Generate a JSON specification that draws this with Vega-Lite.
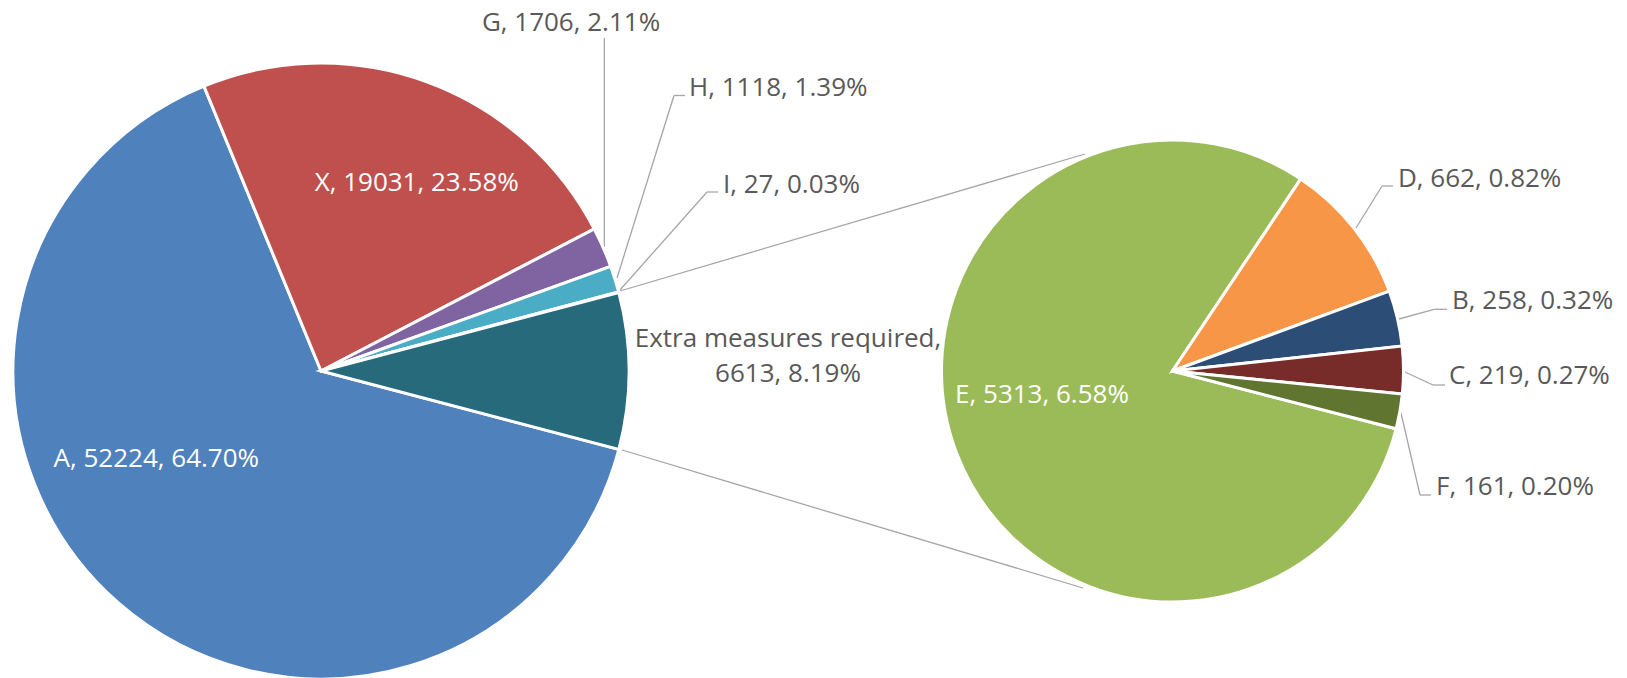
{
  "$schema": "https://vega.github.io/schema/vega-lite/v6.json",
  "autosize": "none",
  "width": 1627,
  "height": 678,
  "padding": 0,
  "background": "white",
  "config": {"view": {"stroke": null}, "text": {"font": "Open Sans", "fontSize": 26, "baseline": "alphabetic"}},
  "datasets": {
    "slices": [
      {"pie": "main", "name": "A", "value": 52224, "pct": 64.70},
      {"pie": "main", "name": "X", "value": 19031, "pct": 23.58},
      {"pie": "main", "name": "G", "value": 1706, "pct": 2.11},
      {"pie": "main", "name": "H", "value": 1118, "pct": 1.39},
      {"pie": "main", "name": "I", "value": 27, "pct": 0.03},
      {"pie": "main", "name": "Extra measures required", "value": 6613, "pct": 8.19},
      {"pie": "detail", "name": "E", "value": 5313, "pct": 6.58},
      {"pie": "detail", "name": "D", "value": 662, "pct": 0.82},
      {"pie": "detail", "name": "B", "value": 258, "pct": 0.32},
      {"pie": "detail", "name": "C", "value": 219, "pct": 0.27},
      {"pie": "detail", "name": "F", "value": 161, "pct": 0.20}
    ]
  },
  "resolve": {"scale": {"theta": "independent"}},
  "layer": [
    {"data": {"values": [{}]}, "mark": {"type": "rule", "color": "#A6A6A6", "strokeWidth": 1.3},
     "encoding": {"x": {"datum": 620, "type": "quantitative", "scale": {"domain": [0, 1627], "nice": false, "zero": false}, "axis": null},
                  "y": {"datum": 291, "type": "quantitative", "scale": {"domain": [0, 678], "nice": false, "zero": false, "reverse": true}, "axis": null},
                  "x2": {"datum": 1085}, "y2": {"datum": 154}}},
    {"data": {"values": [{}]}, "mark": {"type": "rule", "color": "#A6A6A6", "strokeWidth": 1.3},
     "encoding": {"x": {"datum": 622, "type": "quantitative", "scale": {"domain": [0, 1627], "nice": false, "zero": false}, "axis": null},
                  "y": {"datum": 450, "type": "quantitative", "scale": {"domain": [0, 678], "nice": false, "zero": false, "reverse": true}, "axis": null},
                  "x2": {"datum": 1083}, "y2": {"datum": 588}}},
    {"data": {"values": [{}]}, "mark": {"type": "rule", "color": "#A6A6A6", "strokeWidth": 1.3},
     "encoding": {"x": {"datum": 604.3, "type": "quantitative", "scale": {"domain": [0, 1627], "nice": false, "zero": false}, "axis": null},
                  "y": {"datum": 247, "type": "quantitative", "scale": {"domain": [0, 678], "nice": false, "zero": false, "reverse": true}, "axis": null},
                  "x2": {"datum": 604.3}, "y2": {"datum": 38}}},
    {"data": {"values": [{}]}, "mark": {"type": "rule", "color": "#A6A6A6", "strokeWidth": 1.3},
     "encoding": {"x": {"datum": 617, "type": "quantitative", "scale": {"domain": [0, 1627], "nice": false, "zero": false}, "axis": null},
                  "y": {"datum": 278, "type": "quantitative", "scale": {"domain": [0, 678], "nice": false, "zero": false, "reverse": true}, "axis": null},
                  "x2": {"datum": 674}, "y2": {"datum": 95.5}}},
    {"data": {"values": [{}]}, "mark": {"type": "rule", "color": "#A6A6A6", "strokeWidth": 1.3},
     "encoding": {"x": {"datum": 674, "type": "quantitative", "scale": {"domain": [0, 1627], "nice": false, "zero": false}, "axis": null},
                  "y": {"datum": 95.5, "type": "quantitative", "scale": {"domain": [0, 678], "nice": false, "zero": false, "reverse": true}, "axis": null},
                  "x2": {"datum": 685}, "y2": {"datum": 95.5}}},
    {"data": {"values": [{}]}, "mark": {"type": "rule", "color": "#A6A6A6", "strokeWidth": 1.3},
     "encoding": {"x": {"datum": 620, "type": "quantitative", "scale": {"domain": [0, 1627], "nice": false, "zero": false}, "axis": null},
                  "y": {"datum": 290, "type": "quantitative", "scale": {"domain": [0, 678], "nice": false, "zero": false, "reverse": true}, "axis": null},
                  "x2": {"datum": 707}, "y2": {"datum": 192}}},
    {"data": {"values": [{}]}, "mark": {"type": "rule", "color": "#A6A6A6", "strokeWidth": 1.3},
     "encoding": {"x": {"datum": 707, "type": "quantitative", "scale": {"domain": [0, 1627], "nice": false, "zero": false}, "axis": null},
                  "y": {"datum": 192, "type": "quantitative", "scale": {"domain": [0, 678], "nice": false, "zero": false, "reverse": true}, "axis": null},
                  "x2": {"datum": 718}, "y2": {"datum": 192}}},
    {"data": {"values": [{}]}, "mark": {"type": "rule", "color": "#A6A6A6", "strokeWidth": 1.3},
     "encoding": {"x": {"datum": 1356, "type": "quantitative", "scale": {"domain": [0, 1627], "nice": false, "zero": false}, "axis": null},
                  "y": {"datum": 228, "type": "quantitative", "scale": {"domain": [0, 678], "nice": false, "zero": false, "reverse": true}, "axis": null},
                  "x2": {"datum": 1382}, "y2": {"datum": 186}}},
    {"data": {"values": [{}]}, "mark": {"type": "rule", "color": "#A6A6A6", "strokeWidth": 1.3},
     "encoding": {"x": {"datum": 1382, "type": "quantitative", "scale": {"domain": [0, 1627], "nice": false, "zero": false}, "axis": null},
                  "y": {"datum": 186, "type": "quantitative", "scale": {"domain": [0, 678], "nice": false, "zero": false, "reverse": true}, "axis": null},
                  "x2": {"datum": 1393}, "y2": {"datum": 186}}},
    {"data": {"values": [{}]}, "mark": {"type": "rule", "color": "#A6A6A6", "strokeWidth": 1.3},
     "encoding": {"x": {"datum": 1399, "type": "quantitative", "scale": {"domain": [0, 1627], "nice": false, "zero": false}, "axis": null},
                  "y": {"datum": 319, "type": "quantitative", "scale": {"domain": [0, 678], "nice": false, "zero": false, "reverse": true}, "axis": null},
                  "x2": {"datum": 1434}, "y2": {"datum": 309.3}}},
    {"data": {"values": [{}]}, "mark": {"type": "rule", "color": "#A6A6A6", "strokeWidth": 1.3},
     "encoding": {"x": {"datum": 1434, "type": "quantitative", "scale": {"domain": [0, 1627], "nice": false, "zero": false}, "axis": null},
                  "y": {"datum": 309.3, "type": "quantitative", "scale": {"domain": [0, 678], "nice": false, "zero": false, "reverse": true}, "axis": null},
                  "x2": {"datum": 1447}, "y2": {"datum": 309.3}}},
    {"data": {"values": [{}]}, "mark": {"type": "rule", "color": "#A6A6A6", "strokeWidth": 1.3},
     "encoding": {"x": {"datum": 1405, "type": "quantitative", "scale": {"domain": [0, 1627], "nice": false, "zero": false}, "axis": null},
                  "y": {"datum": 372, "type": "quantitative", "scale": {"domain": [0, 678], "nice": false, "zero": false, "reverse": true}, "axis": null},
                  "x2": {"datum": 1433}, "y2": {"datum": 385}}},
    {"data": {"values": [{}]}, "mark": {"type": "rule", "color": "#A6A6A6", "strokeWidth": 1.3},
     "encoding": {"x": {"datum": 1433, "type": "quantitative", "scale": {"domain": [0, 1627], "nice": false, "zero": false}, "axis": null},
                  "y": {"datum": 385, "type": "quantitative", "scale": {"domain": [0, 678], "nice": false, "zero": false, "reverse": true}, "axis": null},
                  "x2": {"datum": 1445}, "y2": {"datum": 385}}},
    {"data": {"values": [{}]}, "mark": {"type": "rule", "color": "#A6A6A6", "strokeWidth": 1.3},
     "encoding": {"x": {"datum": 1401, "type": "quantitative", "scale": {"domain": [0, 1627], "nice": false, "zero": false}, "axis": null},
                  "y": {"datum": 413, "type": "quantitative", "scale": {"domain": [0, 678], "nice": false, "zero": false, "reverse": true}, "axis": null},
                  "x2": {"datum": 1420}, "y2": {"datum": 495}}},
    {"data": {"values": [{}]}, "mark": {"type": "rule", "color": "#A6A6A6", "strokeWidth": 1.3},
     "encoding": {"x": {"datum": 1420, "type": "quantitative", "scale": {"domain": [0, 1627], "nice": false, "zero": false}, "axis": null},
                  "y": {"datum": 495, "type": "quantitative", "scale": {"domain": [0, 678], "nice": false, "zero": false, "reverse": true}, "axis": null},
                  "x2": {"datum": 1431}, "y2": {"datum": 495}}},
    {"data": {"name": "slices"},
     "transform": [{"filter": "datum.pie === 'main'"}, {"window": [{"op": "row_number", "as": "k"}]}],
     "mark": {"type": "arc", "outerRadius": 308, "stroke": "white", "strokeWidth": 3},
     "encoding": {
       "x": {"datum": 321, "type": "quantitative", "scale": {"domain": [0, 1627], "nice": false, "zero": false}, "axis": null},
       "y": {"datum": 371, "type": "quantitative", "scale": {"domain": [0, 678], "nice": false, "zero": false, "reverse": true}, "axis": null},
       "theta": {"field": "value", "type": "quantitative", "stack": true, "scale": {"range": [1.8281, 8.1113]}},
       "order": {"field": "k", "type": "quantitative"},
       "color": {"field": "name", "type": "nominal", "legend": null,
                 "scale": {"domain": ["A", "X", "G", "H", "I", "Extra measures required", "E", "D", "B", "C", "F"],
                           "range": ["#4F81BD", "#C0504D", "#8064A2", "#4BACC6", "#F79646", "#276A7C", "#9BBB59", "#F79646", "#2C4D75", "#772C2A", "#5F7530"]}}
     }},
    {"data": {"name": "slices"},
     "transform": [{"filter": "datum.pie === 'detail'"}, {"window": [{"op": "row_number", "as": "k"}]}],
     "mark": {"type": "arc", "outerRadius": 231, "stroke": "white", "strokeWidth": 3},
     "encoding": {
       "x": {"datum": 1172.5, "type": "quantitative", "scale": {"domain": [0, 1627], "nice": false, "zero": false}, "axis": null},
       "y": {"datum": 371, "type": "quantitative", "scale": {"domain": [0, 678], "nice": false, "zero": false, "reverse": true}, "axis": null},
       "theta": {"field": "value", "type": "quantitative", "stack": true, "scale": {"range": [1.8238, 8.1070]}},
       "order": {"field": "k", "type": "quantitative"},
       "color": {"field": "name", "type": "nominal", "legend": null,
                 "scale": {"domain": ["A", "X", "G", "H", "I", "Extra measures required", "E", "D", "B", "C", "F"],
                           "range": ["#4F81BD", "#C0504D", "#8064A2", "#4BACC6", "#F79646", "#276A7C", "#9BBB59", "#F79646", "#2C4D75", "#772C2A", "#5F7530"]}}
     }},
    {"data": {"name": "slices"},
     "transform": [{"filter": "datum.name === 'G'"}, {"calculate": "datum.name + ', ' + datum.value + ', ' + format(datum.pct, '.2f') + '%'", "as": "label"}],
     "mark": {"type": "text", "align": "center", "color": "#595959"},
     "encoding": {"x": {"datum": 571, "type": "quantitative", "scale": {"domain": [0, 1627], "nice": false, "zero": false}, "axis": null},
                  "y": {"datum": 31, "type": "quantitative", "scale": {"domain": [0, 678], "nice": false, "zero": false, "reverse": true}, "axis": null},
                  "text": {"field": "label", "type": "nominal"}}},
    {"data": {"name": "slices"},
     "transform": [{"filter": "datum.name === 'H'"}, {"calculate": "datum.name + ', ' + datum.value + ', ' + format(datum.pct, '.2f') + '%'", "as": "label"}],
     "mark": {"type": "text", "align": "left", "color": "#595959"},
     "encoding": {"x": {"datum": 689, "type": "quantitative", "scale": {"domain": [0, 1627], "nice": false, "zero": false}, "axis": null},
                  "y": {"datum": 96, "type": "quantitative", "scale": {"domain": [0, 678], "nice": false, "zero": false, "reverse": true}, "axis": null},
                  "text": {"field": "label", "type": "nominal"}}},
    {"data": {"name": "slices"},
     "transform": [{"filter": "datum.name === 'I'"}, {"calculate": "datum.name + ', ' + datum.value + ', ' + format(datum.pct, '.2f') + '%'", "as": "label"}],
     "mark": {"type": "text", "align": "left", "color": "#595959"},
     "encoding": {"x": {"datum": 723, "type": "quantitative", "scale": {"domain": [0, 1627], "nice": false, "zero": false}, "axis": null},
                  "y": {"datum": 193, "type": "quantitative", "scale": {"domain": [0, 678], "nice": false, "zero": false, "reverse": true}, "axis": null},
                  "text": {"field": "label", "type": "nominal"}}},
    {"data": {"name": "slices"},
     "transform": [{"filter": "datum.name === 'X'"}, {"calculate": "datum.name + ', ' + datum.value + ', ' + format(datum.pct, '.2f') + '%'", "as": "label"}],
     "mark": {"type": "text", "align": "center", "color": "white"},
     "encoding": {"x": {"datum": 416.7, "type": "quantitative", "scale": {"domain": [0, 1627], "nice": false, "zero": false}, "axis": null},
                  "y": {"datum": 191, "type": "quantitative", "scale": {"domain": [0, 678], "nice": false, "zero": false, "reverse": true}, "axis": null},
                  "text": {"field": "label", "type": "nominal"}}},
    {"data": {"name": "slices"},
     "transform": [{"filter": "datum.name === 'A'"}, {"calculate": "datum.name + ', ' + datum.value + ', ' + format(datum.pct, '.2f') + '%'", "as": "label"}],
     "mark": {"type": "text", "align": "center", "color": "white"},
     "encoding": {"x": {"datum": 156.3, "type": "quantitative", "scale": {"domain": [0, 1627], "nice": false, "zero": false}, "axis": null},
                  "y": {"datum": 467, "type": "quantitative", "scale": {"domain": [0, 678], "nice": false, "zero": false, "reverse": true}, "axis": null},
                  "text": {"field": "label", "type": "nominal"}}},
    {"data": {"name": "slices"},
     "transform": [{"filter": "datum.name === 'Extra measures required'"}, {"calculate": "datum.name + ',\\n' + datum.value + ', ' + format(datum.pct, '.2f') + '%'", "as": "label"}],
     "mark": {"type": "text", "align": "center", "color": "#595959", "lineBreak": "\n", "lineHeight": 35},
     "encoding": {"x": {"datum": 788, "type": "quantitative", "scale": {"domain": [0, 1627], "nice": false, "zero": false}, "axis": null},
                  "y": {"datum": 347, "type": "quantitative", "scale": {"domain": [0, 678], "nice": false, "zero": false, "reverse": true}, "axis": null},
                  "text": {"field": "label", "type": "nominal"}}},
    {"data": {"name": "slices"},
     "transform": [{"filter": "datum.name === 'E'"}, {"calculate": "datum.name + ', ' + datum.value + ', ' + format(datum.pct, '.2f') + '%'", "as": "label"}],
     "mark": {"type": "text", "align": "center", "color": "white"},
     "encoding": {"x": {"datum": 1042, "type": "quantitative", "scale": {"domain": [0, 1627], "nice": false, "zero": false}, "axis": null},
                  "y": {"datum": 403, "type": "quantitative", "scale": {"domain": [0, 678], "nice": false, "zero": false, "reverse": true}, "axis": null},
                  "text": {"field": "label", "type": "nominal"}}},
    {"data": {"name": "slices"},
     "transform": [{"filter": "datum.name === 'D'"}, {"calculate": "datum.name + ', ' + datum.value + ', ' + format(datum.pct, '.2f') + '%'", "as": "label"}],
     "mark": {"type": "text", "align": "left", "color": "#595959"},
     "encoding": {"x": {"datum": 1398, "type": "quantitative", "scale": {"domain": [0, 1627], "nice": false, "zero": false}, "axis": null},
                  "y": {"datum": 187, "type": "quantitative", "scale": {"domain": [0, 678], "nice": false, "zero": false, "reverse": true}, "axis": null},
                  "text": {"field": "label", "type": "nominal"}}},
    {"data": {"name": "slices"},
     "transform": [{"filter": "datum.name === 'B'"}, {"calculate": "datum.name + ', ' + datum.value + ', ' + format(datum.pct, '.2f') + '%'", "as": "label"}],
     "mark": {"type": "text", "align": "left", "color": "#595959"},
     "encoding": {"x": {"datum": 1452, "type": "quantitative", "scale": {"domain": [0, 1627], "nice": false, "zero": false}, "axis": null},
                  "y": {"datum": 309, "type": "quantitative", "scale": {"domain": [0, 678], "nice": false, "zero": false, "reverse": true}, "axis": null},
                  "text": {"field": "label", "type": "nominal"}}},
    {"data": {"name": "slices"},
     "transform": [{"filter": "datum.name === 'C'"}, {"calculate": "datum.name + ', ' + datum.value + ', ' + format(datum.pct, '.2f') + '%'", "as": "label"}],
     "mark": {"type": "text", "align": "left", "color": "#595959"},
     "encoding": {"x": {"datum": 1449, "type": "quantitative", "scale": {"domain": [0, 1627], "nice": false, "zero": false}, "axis": null},
                  "y": {"datum": 384, "type": "quantitative", "scale": {"domain": [0, 678], "nice": false, "zero": false, "reverse": true}, "axis": null},
                  "text": {"field": "label", "type": "nominal"}}},
    {"data": {"name": "slices"},
     "transform": [{"filter": "datum.name === 'F'"}, {"calculate": "datum.name + ', ' + datum.value + ', ' + format(datum.pct, '.2f') + '%'", "as": "label"}],
     "mark": {"type": "text", "align": "left", "color": "#595959"},
     "encoding": {"x": {"datum": 1436, "type": "quantitative", "scale": {"domain": [0, 1627], "nice": false, "zero": false}, "axis": null},
                  "y": {"datum": 495, "type": "quantitative", "scale": {"domain": [0, 678], "nice": false, "zero": false, "reverse": true}, "axis": null},
                  "text": {"field": "label", "type": "nominal"}}}
  ]
}
